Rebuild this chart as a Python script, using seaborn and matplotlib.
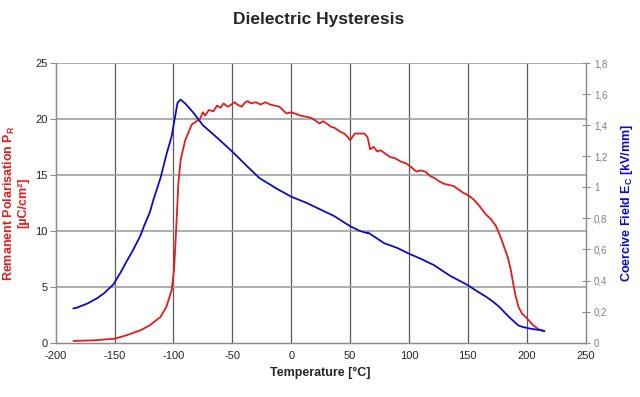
import numpy as np
import pandas as pd
import matplotlib
matplotlib.use('Agg')
import matplotlib.pyplot as plt
import seaborn as sns

# remanent polarisation (left axis)
temp_pr = [-185, -168, -150, -140, -128, -120, -111, -106, -101.5, -99.5, -97.7, -95.8,
           -93.8, -90, -84.5, -77.5, -75, -73, -70, -66, -63, -60, -57.5, -54, -52, -48,
           -46, -42, -39, -37, -34, -30, -26, -22, -18, -14, -10, -6, -4, 0, 3, 8, 13, 17,
           20, 24, 27, 30, 34, 37, 41, 45, 48, 50, 52, 54, 58, 62, 64, 65, 67, 70, 73, 76,
           80, 84, 88, 93, 98, 102, 106, 110, 114, 118, 122, 126, 130, 134, 138, 142, 146,
           150, 155, 160, 165, 170, 174, 178, 181, 184, 186.5, 188.5, 190.5, 193, 196, 200,
           205, 210, 215]
pr = [0.15, 0.2, 0.35, 0.65, 1.1, 1.55, 2.3, 3.2, 4.7, 6.5, 10.1, 14.3,
      16.4, 18.1, 19.5, 20.0, 20.6, 20.3, 20.8, 20.7, 21.2, 21.0, 21.4, 21.1, 21.2, 21.5,
      21.3, 21.1, 21.5, 21.6, 21.4, 21.5, 21.3, 21.5, 21.3, 21.2, 21.1, 20.7, 20.5, 20.6, 20.5, 20.3, 20.2, 20.1,
      19.9, 19.6, 19.8, 19.6, 19.3, 19.2, 18.9, 18.7, 18.4, 18.1, 18.4, 18.7, 18.7, 18.7, 18.5, 18.3, 17.3, 17.5, 17.1, 17.2,
      16.9, 16.6, 16.5, 16.2, 16.0, 15.7, 15.3, 15.4, 15.3, 14.9, 14.7, 14.4, 14.2, 14.1, 14.0, 13.7, 13.4,
      13.2, 12.8, 12.2, 11.5, 11.0, 10.4, 9.4, 8.5, 7.6, 6.5, 5.3, 4.2, 3.2, 2.6, 2.2,
      1.6, 1.2, 1.0]

# coercive field (right axis)
temp_ec = [-185, -182, -173, -165, -159, -151, -145, -140, -134, -128, -125, -120, -117,
           -111, -106, -101.5, -98.5, -96.5, -94, -90, -83, -75, -63, -50, -38, -27, -12,
           0, 13, 24, 36.5, 50, 58, 64.6, 65, 79, 90, 100, 110, 121, 135, 150, 158, 166,
           172, 177, 183, 188, 193, 197, 203, 208, 212, 215]
ec = [0.22, 0.225, 0.252, 0.285, 0.317, 0.375, 0.45, 0.52, 0.60, 0.69, 0.75, 0.84, 0.92,
      1.06, 1.21, 1.33, 1.46, 1.545, 1.565, 1.54, 1.48, 1.40, 1.32, 1.23, 1.14, 1.06, 0.99,
      0.94, 0.90, 0.86, 0.815, 0.75, 0.72, 0.705, 0.71, 0.64, 0.61, 0.573, 0.54, 0.50, 0.43, 0.37, 0.33, 0.293,
      0.26, 0.228, 0.18, 0.144, 0.11, 0.10, 0.09, 0.084, 0.08, 0.075]

x_ticks = list(range(-200, 251, 50))
left_ticks = [0, 5, 10, 15, 20, 25]
right_ticks = [0, 0.2, 0.4, 0.6, 0.8, 1.0, 1.2, 1.4, 1.6, 1.8]
right_labels = ['0', '0,2', '0,4', '0,6', '0,8', '1', '1,2', '1,4', '1,6', '1,8']

sns.set_style('white')
plt.rcParams['font.family'] = ['Liberation Sans', 'DejaVu Sans']
plt.rcParams['axes.unicode_minus'] = False
plt.rcParams['mathtext.fontset'] = 'custom'
plt.rcParams['mathtext.rm'] = 'Liberation Sans'
plt.rcParams['mathtext.bf'] = 'Liberation Sans:bold'

RED = '#e31c1c'
BLUE = '#0c0cc8'

df_pr = pd.DataFrame({'T': temp_pr, 'P': pr})
df_ec = pd.DataFrame({'T': temp_ec, 'E': ec})

fig = plt.figure(figsize=(6.4, 3.97), dpi=100)
ax = fig.add_axes([0.087, 0.137, 0.828, 0.704])
ax2 = ax.twinx()

sns.lineplot(data=df_pr, x='T', y='P', ax=ax, color=RED, lw=1.3, sort=False)
sns.lineplot(data=df_ec, x='T', y='E', ax=ax2, color=BLUE, lw=1.3, sort=False)

ax.set_xlim(-200, 250)
ax.set_ylim(0, 25)
ax2.set_ylim(0, 1.8)
ax.set_xticks(x_ticks)
ax.set_yticks(left_ticks)
ax2.set_yticks(right_ticks)
ax2.set_yticklabels(right_labels)

for x in x_ticks[1:-1]:
    ax.axvline(x, color='#5a5a5a', lw=0.9, zorder=0)
for y in left_ticks[1:]:
    ax.axhline(y, color='#a0a0a0', lw=1.2, zorder=0)

for a in (ax, ax2):
    for s in a.spines.values():
        s.set_color('#8c8c8c')
        s.set_linewidth(0.9)
    a.spines['top'].set_visible(False)

ax.tick_params(axis='x', direction='inout', length=6, width=0.8, color='#8c8c8c',
               labelsize=8, pad=3)
ax.tick_params(axis='y', direction='out', length=4, width=0.8, color='#8c8c8c',
               labelsize=8, pad=2)
ax2.tick_params(axis='y', direction='inout', length=6, width=0.8, color='#8c8c8c',
                labelsize=7, labelcolor='#808080', pad=3)

ax.set_xlabel('Temperature [°C]', fontsize=9, fontweight='bold', labelpad=4)
ax.set_ylabel('Remanent Polarisation P$_\\mathbf{R}$\n[µC/cm²]', fontsize=9,
              fontweight='bold', color=RED, labelpad=4, linespacing=1.1)
ax2.set_ylabel('Coercive Field E$_\\mathbf{C}$ [kV/mm]', fontsize=9,
               fontweight='bold', color=BLUE, labelpad=8)

fig.suptitle('Dielectric Hysteresis', x=0.498, y=0.97, fontsize=12.5, fontweight='bold')

fig.savefig('out.png', dpi=100, facecolor='white')
